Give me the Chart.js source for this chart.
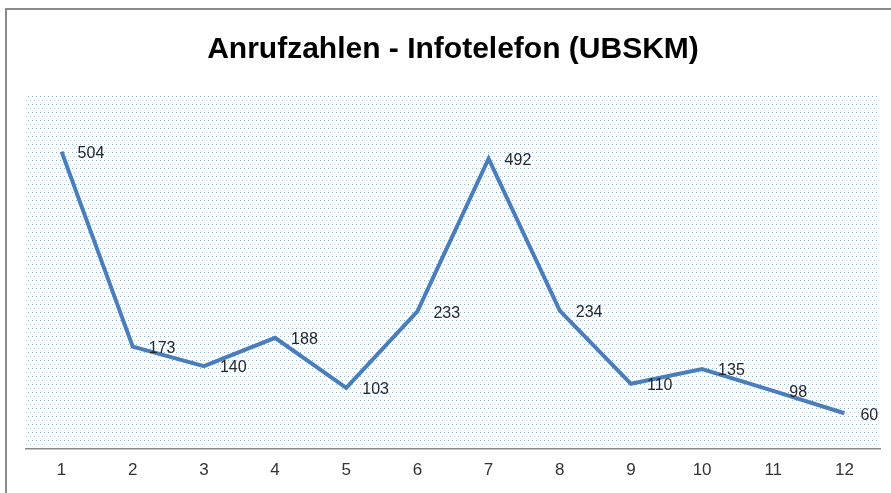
<!DOCTYPE html>
<html>
<head>
<meta charset="utf-8">
<script src="https://cdn.jsdelivr.net/npm/chart.js@4"></script>
<style>
  html, body { margin: 0; padding: 0; background: #fff; }
  #wrap { position: relative; width: 891px; height: 493px; overflow: hidden; }
  #frame { position: absolute; left: 5px; top: 8px; width: 900px; height: 500px;
           border-left: 2px solid #8a8a8a; border-top: 2px solid #8a8a8a; }
  canvas { position: absolute; left: 0; top: 0; }
</style>
</head>
<body>
<div id="wrap">
  <div id="frame"></div>
  <canvas id="chart" width="891" height="493"></canvas>
</div>
<script>
(function () {
  'use strict';

  const months = ['1', '2', '3', '4', '5', '6', '7', '8', '9', '10', '11', '12'];
  const calls = [504, 173, 140, 188, 103, 233, 492, 234, 110, 135, 98, 60];
  const chartTitle = 'Anrufzahlen - Infotelefon (UBSKM)';

  // dotted fill like the Excel pattern
  function makeDots(ctx) {
    const tile = document.createElement('canvas');
    tile.width = 4; tile.height = 8;
    const t = tile.getContext('2d');
    t.fillStyle = 'rgba(79,129,189,0.65)';
    t.fillRect(0, 0, 1, 1);
    t.fillStyle = 'rgba(79,129,189,0.4)';
    t.fillRect(2, 4, 1, 1);
    return ctx.createPattern(tile, 'repeat');
  }

  const plotBg = {
    id: 'plotBg',
    beforeDraw(chart) {
      const { ctx, chartArea: a } = chart;
      ctx.save();
      ctx.fillStyle = makeDots(ctx);
      ctx.fillRect(a.left, a.top, a.right - a.left, a.bottom - a.top);
      ctx.restore();
    }
  };

  const valueLabels = {
    id: 'valueLabels',
    afterDatasetsDraw(chart) {
      const { ctx } = chart;
      const meta = chart.getDatasetMeta(0);
      ctx.save();
      ctx.font = '16px "Liberation Sans", Arial, sans-serif';
      ctx.fillStyle = '#262626';
      ctx.textAlign = 'left';
      ctx.textBaseline = 'middle';
      meta.data.forEach((pt, i) => {
        ctx.fillText(String(calls[i]), pt.x + 16, pt.y + 2);
      });
      ctx.restore();
    }
  };

  new Chart(document.getElementById('chart'), {
    type: 'line',
    data: {
      labels: months,
      datasets: [{
        data: calls,
        borderColor: '#4A7EBB',
        borderWidth: 4,
        pointRadius: 0,
        tension: 0,
        fill: false,
        clip: false
      }]
    },
    options: {
      responsive: false,
      animation: false,
      layout: { padding: { left: 26, right: 11, top: 0, bottom: 0 } },
      plugins: {
        legend: { display: false },
        tooltip: { enabled: false },
        title: {
          display: true,
          text: chartTitle,
          color: '#000',
          font: { family: '"Liberation Sans", Arial, sans-serif', size: 30, weight: 'bold', lineHeight: 1.2 },
          padding: { top: 32, bottom: 27 }
        }
      },
      scales: {
        x: {
          offset: true,
          grid: { display: false, drawTicks: false },
          border: { display: true, color: '#8a8a8a', width: 1.5 },
          ticks: {
            color: '#333',
            padding: 12,
            font: { family: '"Liberation Sans", Arial, sans-serif', size: 17, lineHeight: 1.2 }
          }
        },
        y: {
          display: false,
          min: 0,
          max: 600
        }
      }
    },
    plugins: [plotBg, valueLabels]
  });
})();
</script>
</body>
</html>
